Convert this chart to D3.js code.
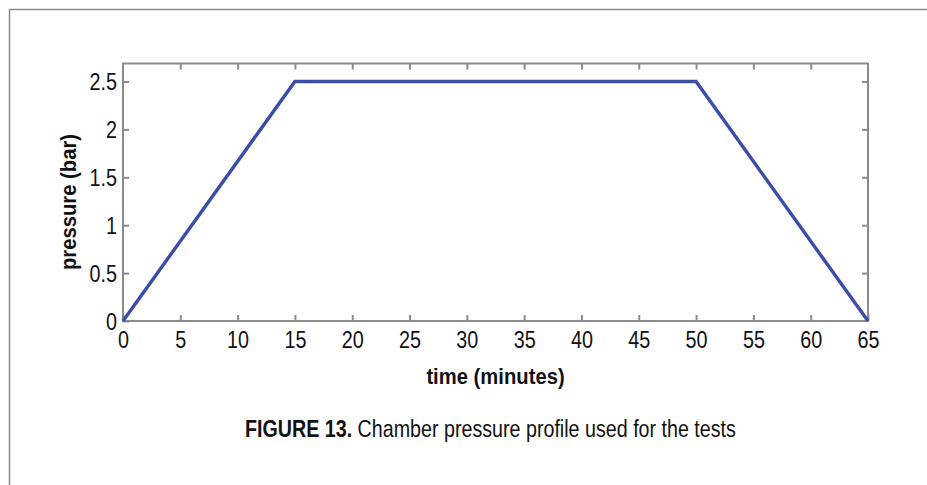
<!DOCTYPE html>
<html><head><meta charset="utf-8">
<script src="https://cdn.jsdelivr.net/npm/d3@7"></script>
<style>
body{margin:0;background:#fff;}
text{font-family:"Liberation Sans",Arial,sans-serif;}
</style></head>
<body><svg id="c" width="927" height="485"></svg>
<script>
const timeMin = [0, 15, 50, 65];
const pressureBar = [0, 2.5, 2.5, 0];
const xTicks = [0,5,10,15,20,25,30,35,40,45,50,55,60,65];
const yTicks = [0,0.5,1,1.5,2,2.5];
const xLabel = "time (minutes)";
const yLabel = "pressure (bar)";
const captionBold = "FIGURE 13.";
const captionText = " Chamber pressure profile used for the tests";

const svg = d3.select("#c");
svg.append("path").attr("d","M9.5,485V9.5H927").attr("fill","none").attr("stroke","#8a8a8a").attr("stroke-width",1.5);

const L=123,R=868,T=63.5,B=321;
const x = d3.scaleLinear().domain([0,65]).range([L,R]);
const y = d3.scaleLinear().domain([0,2.5]).range([B,81.5]);
const grey="#8c8c8c";
const sx=0.86;

const g = svg.append("g");
g.append("rect").attr("x",L).attr("y",T).attr("width",R-L).attr("height",B-T).attr("fill","none").attr("stroke",grey).attr("stroke-width",2);

const tl=6;
const xb = d3.axisBottom(x).tickValues(xTicks).tickSize(-tl).tickFormat(d3.format("d"));
const gx = g.append("g").attr("transform",`translate(0,${B})`).call(xb);
const xt = d3.axisTop(x).tickValues(xTicks.slice(1,-1)).tickSize(-tl).tickFormat("");
const gxt = g.append("g").attr("transform",`translate(0,${T})`).call(xt);
const yl = d3.axisLeft(y).tickValues(yTicks).tickSize(-tl).tickFormat(d=>String(d));
const gy = g.append("g").attr("transform",`translate(${L},0)`).call(yl);
const yr = d3.axisRight(y).tickValues(yTicks.slice(1)).tickSize(-tl).tickFormat("");
const gyr = g.append("g").attr("transform",`translate(${R},0)`).call(yr);
[gx,gxt,gy,gyr].forEach(a=>{
  a.select(".domain").remove();
  a.selectAll(".tick line").attr("stroke",grey).attr("stroke-width",2);
  a.selectAll("text").attr("fill","#111").attr("font-size",23).attr("font-family",'"Liberation Sans",sans-serif');
});
gx.selectAll("text").attr("dy","0.71em").attr("y",10.5).attr("transform",`scale(${sx},1)`);
gy.selectAll("text").attr("x",-6/sx).attr("dy","0.35em").attr("transform",`scale(${sx},1)`);

const line = d3.line().x((d,i)=>x(timeMin[i])).y(d=>y(d));
g.append("path").datum(pressureBar).attr("d",line).attr("fill","none").attr("stroke","#3a4ea8").attr("stroke-width",3.4).attr("stroke-linejoin","miter");

svg.append("text").attr("transform",`translate(${(L+R)/2},384) scale(0.92,1)`).attr("text-anchor","middle").attr("font-weight","bold").attr("font-size",22).attr("fill","#111").text(xLabel);
svg.append("text").attr("transform",`translate(76,202) rotate(-90) scale(0.92,1)`).attr("text-anchor","middle").attr("font-weight","bold").attr("font-size",22).attr("fill","#111").text(yLabel);

const cap = svg.append("text").attr("transform","translate(245,437) scale(0.82,1)").attr("font-size",24).attr("fill","#111");
cap.append("tspan").attr("font-weight","bold").text(captionBold);
cap.append("tspan").text(captionText);
</script></body></html>
